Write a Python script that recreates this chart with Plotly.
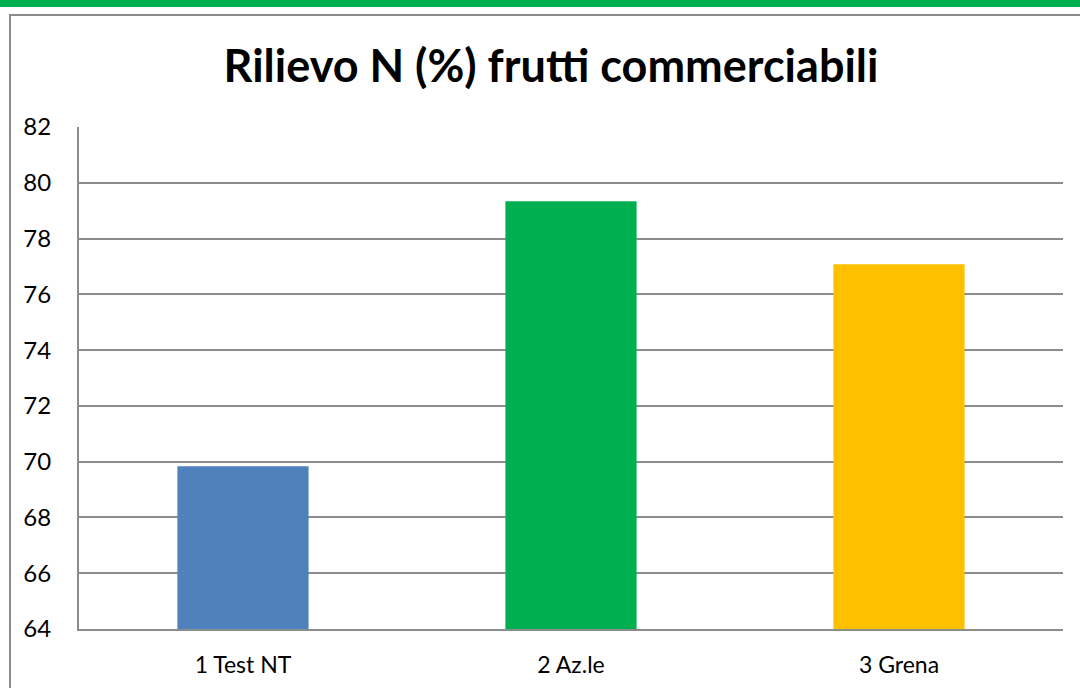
import plotly.graph_objects as go

categories = ["1 Test NT", "2 Az.le", "3 Grena"]
values = [69.84, 79.34, 77.08]
bar_colors = ["#4F81BD", "#00B050", "#FFC000"]
y_ticks = [64, 66, 68, 70, 72, 74, 76, 78, 80, 82]
title_text = "Rilievo N (%) frutti commerciabili"

W, H = 1080, 688
L, R, T, B = 79, 1063, 127, 629
PW, PH = R - L, B - T


def px_x(p):
    return (p - L) / PW


def px_y(p):
    return (B - p) / PH


fig = go.Figure()
fig.add_trace(go.Bar(
    x=categories, y=values, marker=dict(color=bar_colors, line=dict(width=0)),
    width=0.40, hoverinfo="skip",
))

fig.update_layout(
    width=W, height=H,
    margin=dict(l=L, r=W - R, t=T, b=H - B, autoexpand=False),
    paper_bgcolor="white", plot_bgcolor="white",
    showlegend=False,
    font=dict(family="Lato, Noto Sans, sans-serif", color="black"),
    title=dict(text=title_text, xref="container", yref="container",
               x=551 / W, y=1 - 66 / H, xanchor="center", yanchor="middle",
               font=dict(family="Lato", size=45, color="black", weight="bold")),
    shapes=[
        dict(type="rect", xref="paper", yref="paper", layer="below",
             x0=px_x(-5), x1=px_x(W + 5), y0=px_y(7), y1=px_y(-5),
             fillcolor="#00B050", line=dict(width=0)),
        dict(type="rect", xref="paper", yref="paper", layer="below",
             x0=px_x(10), x1=px_x(W + 20), y0=px_y(H + 20), y1=px_y(15),
             fillcolor="rgba(0,0,0,0)", line=dict(color="#8C8C8C", width=2)),
    ],
)
fig.update_xaxes(showgrid=False, showline=True, linecolor="#8C8C8C", linewidth=2,
                 ticks="outside", ticklen=14, tickcolor="rgba(0,0,0,0)",
                 tickfont=dict(size=23, color="black"))
fig.update_yaxes(range=[64, 82], tickvals=y_ticks, showgrid=True, gridcolor="#8C8C8C",
                 gridwidth=2, showline=True, linecolor="#8C8C8C", linewidth=2,
                 zeroline=False, ticks="outside", ticklen=21, tickcolor="rgba(0,0,0,0)",
                 tickfont=dict(size=24, color="black"))

fig.write_html("out.html", config={"displayModeBar": False},
               post_script="document.body.style.margin='0';")
